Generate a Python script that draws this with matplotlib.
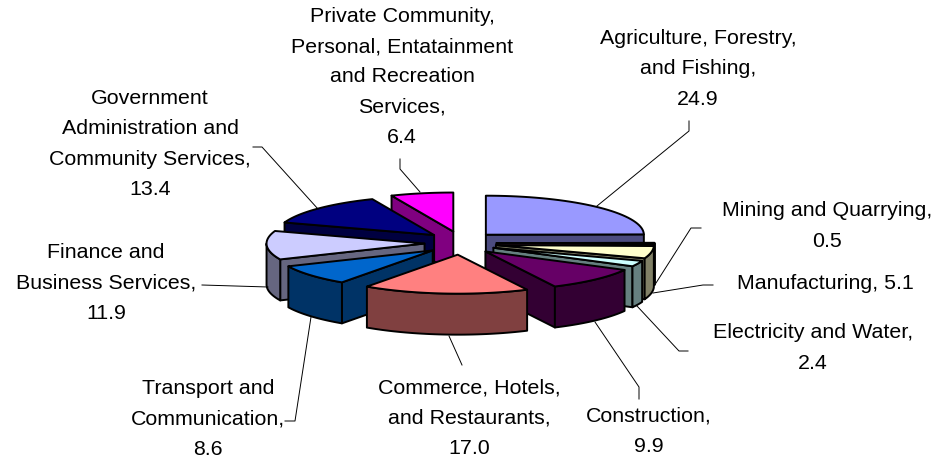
"""
Exploded 3D pie of employment share by sector.
"""
import numpy as np
import matplotlib
matplotlib.use("Agg")
import matplotlib.pyplot as plt
from matplotlib.patches import Polygon

plt.rcParams['font.family'] = ['Liberation Sans', 'DejaVu Sans']

CATEGORIES = ["Agriculture, Forestry,\nand Fishing,", "Mining and Quarrying,", "Manufacturing,",
              "Electricity and Water,", "Construction,", "Commerce, Hotels,\nand Restaurants,",
              "Transport and\nCommunication,", "Finance and\nBusiness Services,",
              "Government\nAdministration and\nCommunity Services,",
              "Private Community,\nPersonal, Entatainment\nand Recreation\nServices,"]
VALUES = [24.9, 0.5, 5.1, 2.4, 9.9, 17.0, 8.6, 11.9, 13.4, 6.4]
TOP_COLORS = ["#9999FF", "#993366", "#FFFFCC", "#CCFFFF", "#660066",
              "#FF8080", "#0066CC", "#CCCCFF", "#000080", "#FF00FF"]
SIDE_COLORS = ["#4C4C80", "#4C1A33", "#808066", "#668080", "#330033",
               "#804040", "#003366", "#666680", "#000040", "#800080"]
LABEL_POS = [(698, 69), (827, 226), (825, 283), (813, 348), (649, 431),
             (469, 418), (208, 419), (106, 283), (150, 144), (402, 77)]
LABEL_SEP = ["\n", "\n", " ", "\n", "\n", "\n", "\n", "\n", "\n", "\n"]
LEADERS = [[(689, 121), (689, 131), (597, 206)],
           [(701, 228), (691, 228), (656, 283)],
           [(713, 285), (703, 285), (653, 293)],
           [(688, 351), (679, 351), (637, 306)],
           [(639, 399), (639, 387), (595, 322)],
           [(462, 365), (449, 336)],
           [(285, 421), (295, 421), (311, 317)],
           [(202, 285), (268, 287)],
           [(253, 147), (262, 147), (318, 209)],
           [(400, 159), (400, 169), (420, 192)]]

CENTER_X, CENTER_Y = 460.5, 243.0
RADIUS_X, RADIUS_Y = 158.0, 39.0
EXPLODE_X, EXPLODE_Y = 36.0, 11.7
DEPTH = 41.0


def _rim(apex, start, end):
    """
    Points of the elliptical rim of a wedge, angles clockwise from the top.
    """
    angles = np.linspace(start, end, 40)
    return np.column_stack((apex[0] + RADIUS_X * np.sin(angles), apex[1] - RADIUS_Y * np.cos(angles)))


def _draw_wedge(ax, start, end, top_color, side_color):
    """
    Draws one exploded wedge: visible cut faces, outer wall, then the top.
    """
    mid = (start + end) / 2
    apex = np.array([CENTER_X + EXPLODE_X * np.sin(mid), CENTER_Y - EXPLODE_Y * np.cos(mid)])
    drop = np.array([0, DEPTH])
    style = dict(edgecolor="black", linewidth=1.4, joinstyle="round")
    for angle, visible in ((start, np.sin(start) < 0), (end, np.sin(end) > 0)):
        if visible:
            corner = _rim(apex, angle, angle)[0]
            ax.add_patch(Polygon([apex, corner, corner + drop, apex + drop], facecolor=side_color, **style))
    wall_start, wall_end = max(start, np.pi / 2), min(end, 3 * np.pi / 2)
    if wall_start < wall_end:
        rim = _rim(apex, wall_start, wall_end)
        ax.add_patch(Polygon(np.vstack((rim, rim[::-1] + drop)), facecolor=side_color, **style))
    ax.add_patch(Polygon(np.vstack((apex, _rim(apex, start, end))), facecolor=top_color, **style))


def main():
    fig = plt.figure(figsize=(9.36, 4.61), dpi=100)
    ax = fig.add_axes([0, 0, 1, 1])
    ax.set_xlim(0, 936)
    ax.set_ylim(461, 0)
    ax.axis("off")

    edges = 2 * np.pi * np.concatenate(([0], np.cumsum(VALUES))) / np.sum(VALUES)
    order = sorted(range(len(VALUES)), key=lambda i: -np.cos((edges[i] + edges[i + 1]) / 2))
    for i in order:
        _draw_wedge(ax, edges[i], edges[i + 1], TOP_COLORS[i], SIDE_COLORS[i])

    for points in LEADERS:
        xs, ys = zip(*points)
        ax.plot(xs, ys, color="black", linewidth=0.7)

    for category, value, pos, sep in zip(CATEGORIES, VALUES, LABEL_POS, LABEL_SEP):
        ax.text(pos[0], pos[1], f"{category}{sep}{value:.1f}", ha="center", va="center",
                fontsize=15.4, linespacing=1.74, color="black")

    fig.savefig("out.png", dpi=100, facecolor="white")


if __name__ == "__main__":
    main()
